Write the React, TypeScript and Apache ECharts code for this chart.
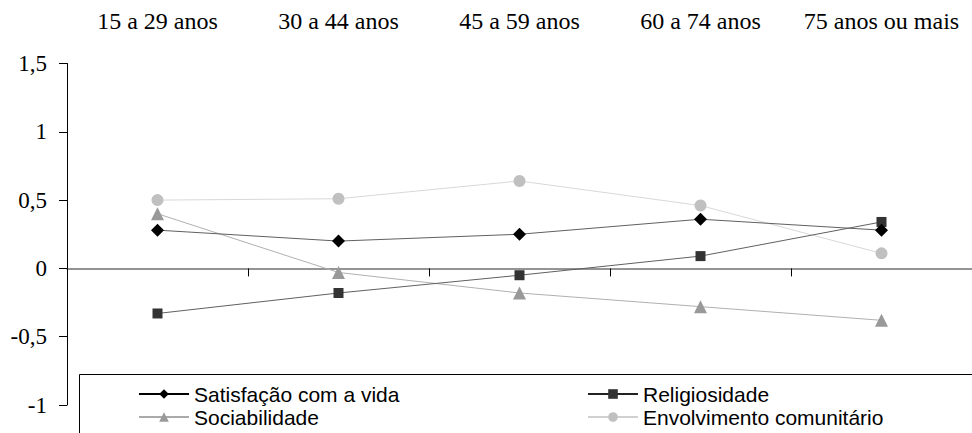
import React, { useEffect, useRef } from "react";
import * as echarts from "echarts";

const categories = ["15 a 29 anos", "30 a 44 anos", "45 a 59 anos", "60 a 74 anos", "75 anos ou mais"];
const seriesNames = ["Satisfação com a vida", "Religiosidade", "Sociabilidade", "Envolvimento comunitário"];
const satisfacao = [0.28, 0.2, 0.25, 0.36, 0.28];
const religiosidade = [-0.33, -0.18, -0.05, 0.09, 0.34];
const sociabilidade = [0.4, -0.03, -0.18, -0.28, -0.38];
const envolvimento = [0.5, 0.51, 0.64, 0.46, 0.11];
const yMin = -1;
const yMax = 1.5;
const yStep = 0.5;

const fmt = (v: number) => String(v).replace(".", ",");

export default function App() {
  const ref = useRef<HTMLDivElement>(null);
  useEffect(() => {
    if (!ref.current) return;
    const chart = echarts.init(ref.current, undefined, { renderer: "svg" });
    const serif = "Times New Roman, Liberation Serif, serif";
    const sans = "Liberation Sans";
    const legendCommon = {
      orient: "vertical" as const,
      top: 382.5,
      padding: 0,
      itemGap: 0,
      itemWidth: 50,
      itemHeight: 12,
      textStyle: { fontFamily: sans, fontSize: 21, color: "#000", lineHeight: 23 },
    };
    chart.setOption({
      animation: false,
      backgroundColor: "#fff",
      textStyle: { fontFamily: serif },
      grid: { left: 67, right: -3, top: 63.5, bottom: 28, containLabel: false },
      legend: [
        {
          ...legendCommon,
          left: 138,
          data: [
            { name: seriesNames[0], lineStyle: { color: "#000" } },
            { name: seriesNames[2], lineStyle: { color: "#aaa" } },
          ],
        },
        {
          ...legendCommon,
          left: 587,
          data: [
            { name: seriesNames[1], lineStyle: { color: "#222" } },
            { name: seriesNames[3], lineStyle: { color: "#d0d0d0" } },
          ],
        },
      ],
      xAxis: [
        {
          type: "category",
          data: categories,
          boundaryGap: true,
          position: "bottom",
          axisLine: { show: true, onZero: true, lineStyle: { color: "#707070", width: 1.5 } },
          axisTick: { show: true, interval: 0, length: 8, lineStyle: { color: "#000", width: 1 } },
          axisLabel: { show: false },
          splitLine: { show: false },
        },
        {
          type: "category",
          data: categories,
          boundaryGap: true,
          position: "top",
          axisLine: { show: false, onZero: false },
          axisTick: { show: false },
          axisLabel: {
            show: true,
            interval: 0,
            margin: 31,
            fontFamily: serif,
            fontSize: 24,
            color: "#000",
          },
          splitLine: { show: false },
        },
      ],
      yAxis: {
        type: "value",
        min: yMin,
        max: yMax,
        interval: yStep,
        axisLine: { show: true, onZero: false, lineStyle: { color: "#000", width: 1 } },
        axisTick: { show: true, length: 8, lineStyle: { color: "#000", width: 1 } },
        axisLabel: {
          margin: 20,
          fontFamily: serif,
          fontSize: 23,
          color: "#000",
          formatter: (v: number) => fmt(v),
        },
        splitLine: { show: false },
      },
      graphic: [
        {
          type: "rect",
          shape: { x: 79.5, y: 374.5, width: 920, height: 80 },
          style: { fill: "none", stroke: "#000", lineWidth: 1 },
          z: 10,
          silent: true,
        },
      ],
      series: [
        {
          name: seriesNames[3],
          type: "line",
          data: envolvimento,
          symbol: "circle",
          symbolSize: 12,
          itemStyle: { color: "#c0c0c0" },
          lineStyle: { color: "#d8d8d8", width: 1 },
          z: 2,
        },
        {
          name: seriesNames[2],
          type: "line",
          data: sociabilidade,
          symbol: "triangle",
          symbolSize: 13,
          itemStyle: { color: "#999" },
          lineStyle: { color: "#b0b0b0", width: 1 },
          z: 3,
        },
        {
          name: seriesNames[1],
          type: "line",
          data: religiosidade,
          symbol: "rect",
          symbolSize: 10,
          itemStyle: { color: "#333" },
          lineStyle: { color: "#606060", width: 1 },
          z: 4,
        },
        {
          name: seriesNames[0],
          type: "line",
          data: satisfacao,
          symbol: "diamond",
          symbolSize: 13,
          itemStyle: { color: "#000" },
          lineStyle: { color: "#606060", width: 1 },
          z: 5,
        },
      ],
    });
    return () => chart.dispose();
  }, []);
  return (
    <div
      ref={ref}
      style={{ position: "absolute", left: 0, top: 0, width: 972, height: 433, background: "#fff" }}
    />
  );
}
